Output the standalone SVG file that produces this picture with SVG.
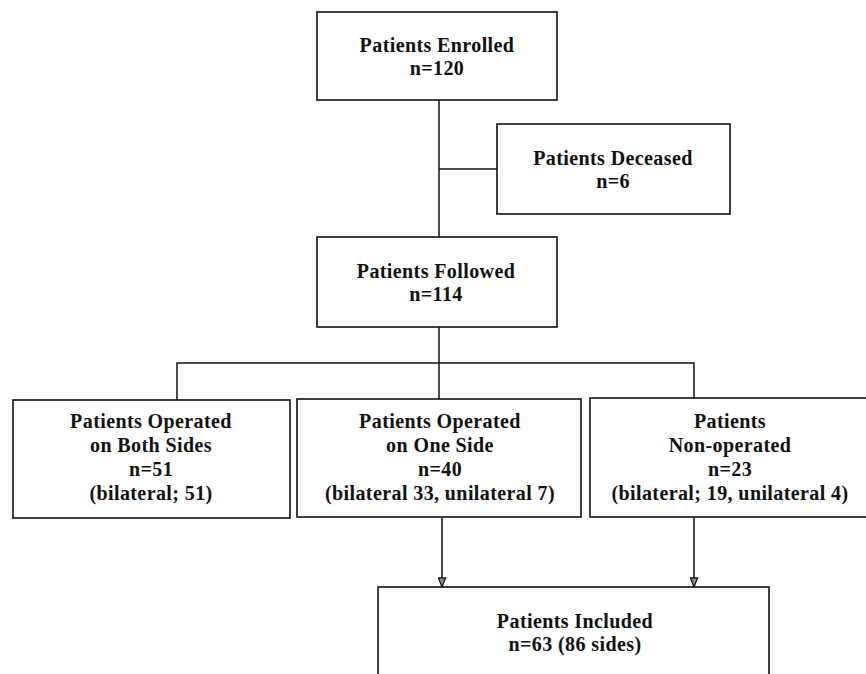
<svg xmlns="http://www.w3.org/2000/svg" width="866" height="674" viewBox="0 0 866 674">
<defs>
<style>
.box{fill:#fff;stroke:#111;stroke-width:1.6}
.ln{fill:none;stroke:#111;stroke-width:1.5}
text{font-family:"Liberation Serif","Times New Roman",serif;font-size:20px;font-weight:bold;fill:#111;text-anchor:middle;letter-spacing:0.4px}
</style>
<marker id="arr" markerWidth="11" markerHeight="9" refX="10" refY="4.5" orient="auto" markerUnits="userSpaceOnUse" viewBox="0 0 11 9">
<path d="M0.8,0.8 L10,4.5 L0.8,8.2 Z" fill="#888" stroke="#111" stroke-width="1.2"/>
</marker>
</defs>
<rect width="866" height="674" fill="#fff"/>
<g id="enrolled">
<rect class="box" x="317" y="12" width="240" height="88"/>
<text x="437" y="52">Patients Enrolled</text>
<text x="437" y="75">n=120</text>
</g>
<g id="deceased">
<rect class="box" x="497" y="124" width="233" height="90"/>
<text x="613" y="165">Patients Deceased</text>
<text x="613" y="188">n=6</text>
</g>
<g id="followed">
<rect class="box" x="317" y="237" width="240" height="90"/>
<text x="436" y="278">Patients Followed</text>
<text x="436" y="301">n=114</text>
</g>
<g id="both-sides">
<rect class="box" x="13" y="400" width="277" height="118"/>
<text x="151" y="428">Patients Operated</text>
<text x="151" y="452">on Both Sides</text>
<text x="151" y="476">n=51</text>
<text x="151" y="500">(bilateral; 51)</text>
</g>
<g id="one-side">
<rect class="box" x="297" y="399" width="284" height="118"/>
<text x="440" y="428">Patients Operated</text>
<text x="440" y="452">on One Side</text>
<text x="440" y="476">n=40</text>
<text x="440" y="500">(bilateral 33, unilateral 7)</text>
</g>
<g id="non-operated">
<rect class="box" x="590" y="398" width="280" height="119"/>
<text x="730" y="428">Patients</text>
<text x="730" y="452">Non-operated</text>
<text x="730" y="476">n=23</text>
<text x="730" y="500">(bilateral; 19, unilateral 4)</text>
</g>
<g id="included">
<rect class="box" x="378" y="587" width="391" height="100"/>
<text x="575" y="628">Patients Included</text>
<text x="575" y="651">n=63  (86 sides)</text>
</g>
<g id="connectors">
<line class="ln" x1="439" y1="100" x2="439" y2="237"/>
<line class="ln" x1="439" y1="169" x2="497" y2="169"/>
<line class="ln" x1="439" y1="327" x2="439" y2="399"/>
<polyline class="ln" points="177,400 177,363 694,363 694,398"/>
<line class="ln" x1="442" y1="518" x2="442" y2="587" marker-end="url(#arr)"/>
<line class="ln" x1="694" y1="517" x2="694" y2="587" marker-end="url(#arr)"/>
</g>
</svg>
